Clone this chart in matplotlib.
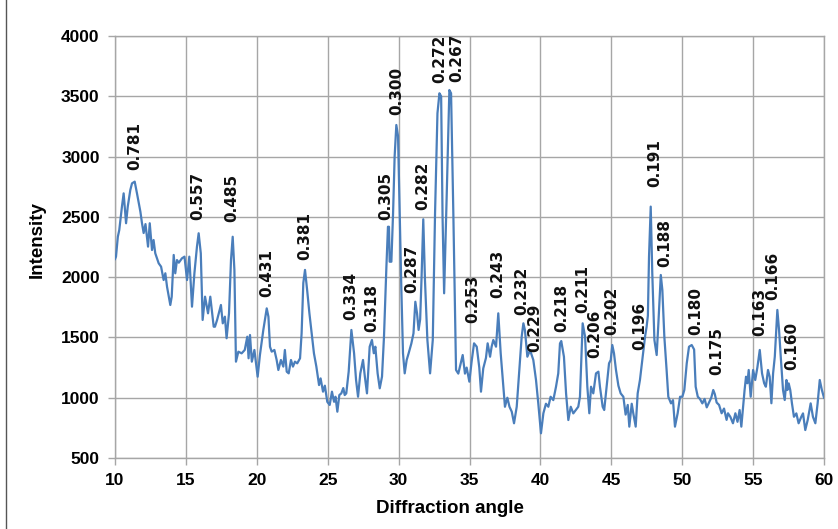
import matplotlib

matplotlib.use("Agg")

import matplotlib.pyplot as plt
from matplotlib import font_manager

# XRD pattern
two_theta = [
    10.00, 10.07, 10.20, 10.30, 10.49, 10.61, 10.78, 10.90, 11.08, 11.20,
    11.39, 11.55, 11.79, 11.90, 12.02, 12.15, 12.33, 12.45, 12.61, 12.72,
    12.84, 13.08, 13.25, 13.43, 13.55, 13.67, 13.90, 14.00, 14.14, 14.25,
    14.37, 14.50, 14.72, 14.90, 15.08, 15.24, 15.43, 15.60, 15.78, 15.90,
    16.05, 16.18, 16.35, 16.56, 16.72, 16.96,
    17.05, 17.20, 17.47, 17.60, 17.75, 17.87, 18.04, 18.18, 18.30, 18.42,
    18.53, 18.70, 18.93, 19.15, 19.33, 19.42, 19.52, 19.65, 19.83, 20.06,
    20.22, 20.46, 20.70, 20.82, 20.93, 21.05, 21.24, 21.40, 21.52, 21.70,
    21.87, 21.98, 22.11, 22.25, 22.41, 22.55, 22.69, 22.85, 23.05, 23.16,
    23.28, 23.40, 23.55, 23.71, 23.87, 24.03, 24.20, 24.39,
    24.50, 24.67, 24.80, 24.97, 25.14, 25.30, 25.45, 25.55, 25.68, 25.82,
    25.96, 26.10, 26.20, 26.31, 26.48, 26.67, 26.86, 27.00, 27.14, 27.30,
    27.49, 27.62, 27.77, 27.96, 28.12, 28.25, 28.36, 28.52, 28.67, 28.83,
    28.97, 29.14, 29.25, 29.32, 29.37, 29.49, 29.61, 29.72, 29.84, 29.96,
    30.08, 30.19, 30.31, 30.43, 30.57, 30.71, 30.90, 31.05, 31.18, 31.30,
    31.41, 31.52, 31.62, 31.74,
    31.86, 32.03, 32.22, 32.41, 32.57, 32.74, 32.88, 33.00, 33.10, 33.21,
    33.39, 33.58, 33.70, 33.86, 34.05, 34.21, 34.33, 34.52, 34.68, 34.80,
    34.99, 35.15, 35.32, 35.51, 35.69, 35.81, 35.97, 36.16, 36.28, 36.45,
    36.56, 36.68, 36.87, 37.03, 37.20, 37.39, 37.50, 37.67, 37.82, 37.98,
    38.14, 38.33, 38.51, 38.68, 38.80, 38.91, 39.08, 39.27, 39.50, 39.69,
    39.85, 40.04, 40.21, 40.39, 40.56, 40.72, 40.91, 41.10, 41.26, 41.38,
    41.47, 41.66, 41.81, 41.97, 42.14, 42.32, 42.51, 42.67, 42.79, 42.98,
    43.15, 43.31, 43.45, 43.57, 43.73, 43.92, 44.09, 44.20, 44.39, 44.50,
    44.67, 44.84, 44.96, 45.07, 45.19, 45.33, 45.50, 45.66, 45.85, 46.01,
    46.16, 46.27, 46.44, 46.55, 46.72, 46.86, 47.02, 47.21, 47.38, 47.49,
    47.58, 47.66, 47.78, 47.89, 48.04, 48.20, 48.32, 48.49, 48.60, 48.74,
    48.90, 49.02, 49.21, 49.35, 49.49, 49.68, 49.85, 50.01, 50.15, 50.32,
    50.48, 50.67, 50.84, 50.95, 51.10, 51.25, 51.42, 51.58, 51.73, 51.89,
    52.05, 52.19, 52.30, 52.43, 52.60, 52.78, 52.95, 53.13,
    53.23, 53.40, 53.58, 53.75, 53.90, 54.05, 54.17, 54.40, 54.50, 54.60,
    54.69, 54.83, 55.00, 55.15, 55.30, 55.47, 55.63, 55.78, 55.90, 56.05,
    56.17, 56.29, 56.41, 56.53, 56.71, 56.83, 56.95, 57.11, 57.23, 57.35,
    57.42, 57.51, 57.62, 57.74, 57.88, 58.05, 58.21, 58.40, 58.52, 58.68,
    58.85, 59.06, 59.22, 59.39, 59.55, 59.70, 59.85, 60.00,
]
intensity = [
    2150, 2170, 2335, 2390, 2585, 2695, 2447, 2585, 2723, 2778,
    2792, 2695, 2543, 2450, 2366, 2440, 2253, 2447, 2225, 2308,
    2198, 2115, 2087, 1976, 2032, 1920, 1769, 1838, 2184, 2032,
    2142, 2120, 2156, 2170, 1976, 2170, 1755, 2032, 2253, 2364,
    2198, 1645, 1838, 1700, 1838, 1589,
    1589, 1645, 1769, 1617, 1672, 1493, 1700, 2142, 2335, 2060,
    1299, 1382, 1368, 1396, 1506, 1327, 1520, 1299, 1396, 1174,
    1354, 1562, 1741, 1672, 1423, 1382, 1396, 1313, 1230, 1313,
    1258, 1396, 1216, 1202, 1313, 1258, 1299, 1285, 1327, 1534,
    1952, 2060, 1893, 1700, 1534, 1368, 1258, 1105,
    1160, 1050, 1100, 966, 940, 1050, 966, 1008, 884, 1022,
    1036, 1080, 1022, 1036, 1217, 1562, 1369, 1147, 1008, 1202,
    1313, 1175, 1036, 1423, 1479, 1369, 1423, 1202, 1078, 1175,
    1507, 2087, 2418, 2418, 2128, 2128, 2530, 3000, 3262, 3170,
    2530, 1921, 1368, 1202, 1313, 1369, 1450, 1534, 1796, 1700,
    1562, 1650, 2000, 2480,
    1976, 1479, 1202, 1479, 2530, 3359, 3525, 3500, 2500, 1866,
    2667, 3552, 3525, 2530, 1230, 1200, 1260, 1354, 1200, 1250,
    1133, 1300, 1451, 1423, 1250, 1050, 1243, 1330, 1451, 1340,
    1423, 1479, 1423, 1700, 1368, 1091, 925, 1000, 925, 884,
    788, 925, 1230, 1507, 1617, 1560, 1340, 1395, 1313, 1147,
    954, 705, 871, 950, 925, 1008, 980, 1091, 1202, 1450,
    1470, 1340, 1036, 815, 925, 870, 900, 925, 1008, 1617,
    1507, 1091, 871, 1091, 1036, 1202, 1216, 1091, 925, 898,
    1091, 1285, 1313, 1437, 1368, 1230, 1100, 1036, 1008, 860,
    940, 760, 950, 871, 760, 1036, 1147, 1340, 1507, 1589,
    1680, 2170, 2585, 2032, 1479, 1354, 1617, 2018, 1894, 1507,
    1230, 1008, 953, 980, 760, 871, 1008, 1008, 1064, 1285,
    1423, 1437, 1400, 1091, 1008, 990, 953, 990, 920, 960,
    1000, 1064, 1030, 960, 940, 871, 910, 816,
    871, 840, 788, 871, 800, 898, 760, 1064, 1174, 1120,
    1230, 1008, 1230, 1147, 1250, 1396, 1202, 1120, 1091, 1230,
    1174, 954, 1202, 1340, 1728, 1562, 1340, 1064, 981, 1147,
    1064, 1119, 1064, 953, 842, 870, 788, 842, 870, 732,
    815, 953, 842, 788, 953, 1147, 1064, 1000,
]

# d-spacing labels (nm) and where their text starts, in data units
d_labels = [
    "0.781", "0.557", "0.485", "0.431", "0.381", "0.334", "0.318", "0.305",
    "0.300", "0.287", "0.282", "0.272", "0.267", "0.253", "0.243", "0.232",
    "0.229", "0.218", "0.211", "0.206", "0.202", "0.196", "0.191", "0.188",
    "0.180", "0.175", "0.163", "0.166", "0.160",
]
label_x = [
    11.41, 15.85, 18.25, 20.72, 23.40, 26.61, 28.12, 29.11,
    29.89, 30.94, 31.72, 32.92, 34.12, 35.25, 37.01, 38.67,
    39.62, 41.49, 42.98, 43.85, 45.03, 47.03, 48.08, 48.78,
    50.97, 52.43, 55.49, 56.38, 57.73,
]
label_y = [
    2889, 2475, 2458, 1835, 2143, 1645, 1548, 2475,
    3345, 1869, 2558, 3610, 3618, 1620, 1826, 1686,
    1381, 1548, 1700, 1329, 1520, 1396, 2749, 2087,
    1520, 1188, 1508, 1814, 1230,
]

installed = {f.name for f in font_manager.fontManager.ttflist}
axis_font = "Liberation Sans Narrow" if "Liberation Sans Narrow" in installed else "Liberation Sans"

LINE = "#4a7ebb"
GRID = "#a6a6a6"

fig = plt.figure(figsize=(8.38, 5.29), dpi=100)
ax = fig.add_axes([115 / 838, 1 - 458 / 529, 709 / 838, 422 / 529])

ax.plot(two_theta, intensity, color=LINE, linewidth=1.6, zorder=3)

for txt, lx, ly in zip(d_labels, label_x, label_y):
    ax.text(lx, ly, txt, rotation=90, ha="center", va="bottom",
            fontsize=11, fontweight="bold", color="#111111", zorder=4)

ax.set_xlim(10, 60)
ax.set_ylim(500, 4000)
ax.set_xticks(range(10, 61, 5))
ax.set_yticks(range(500, 4001, 500))
ax.grid(True, color=GRID, linewidth=1.0, zorder=0)
for spine in ax.spines.values():
    spine.set_color(GRID)
    spine.set_linewidth(1.0)
ax.tick_params(direction="out", length=5, width=1, color=GRID, pad=6)
for lab in ax.get_xticklabels() + ax.get_yticklabels():
    lab.set_fontfamily(axis_font)
    lab.set_fontsize(12.5)
    lab.set_fontweight("bold")

ax.set_xlabel("Diffraction angle", fontsize=13.5, fontweight="bold", family=axis_font)
ax.set_ylabel("Intensity", fontsize=13.5, fontweight="bold", family=axis_font)
ax.xaxis.set_label_coords((450 - 115) / 709, -0.100)
ax.yaxis.set_label_coords((46 - 115) / 709, 0.517)

# thin frame line at the left edge of the chart area, as in the source image
fig.add_artist(plt.Line2D([6 / 838, 6 / 838], [0, 1], color="#555555", linewidth=1.0))

fig.savefig("out.png", dpi=100)
plt.close(fig)
